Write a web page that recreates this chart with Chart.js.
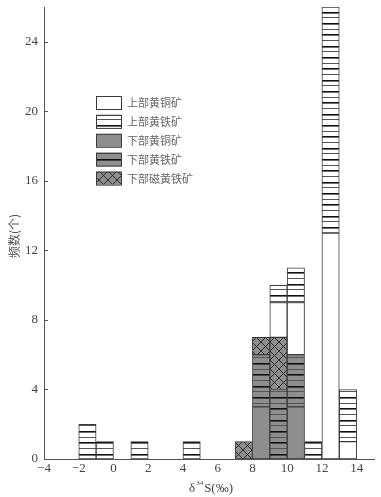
<!DOCTYPE html>
<html>
<head>
<meta charset="utf-8">
<script src="https://cdn.jsdelivr.net/npm/chart.js@4.4.0/dist/chart.umd.min.js"></script>
<style>
  html, body { margin: 0; padding: 0; background: #fff; }
  #wrap { width: 381px; height: 497px; }
</style>
</head>
<body>
<div id="wrap"><canvas id="c" width="381" height="497"></canvas></div>
<script>
// bin left edges (‰), 1‰ wide
const binEdges = [-2, -1, 0, 1, 2, 3, 4, 5, 6, 7, 8, 9, 10, 11, 12, 13];

// counts per bin, stacked bottom -> top
const lowerChalcopyrite = [0, 0, 0, 0, 0, 0, 0, 0, 0, 0, 3, 0, 3, 0, 0, 0];
const lowerPyrite       = [0, 0, 0, 0, 0, 0, 0, 0, 0, 0, 3, 4, 3, 0, 0, 0];
const lowerPyrrhotite   = [0, 0, 0, 0, 0, 0, 0, 0, 0, 1, 1, 3, 0, 0, 0, 0];
const upperChalcopyrite = [0, 0, 0, 0, 0, 0, 0, 0, 0, 0, 0, 2, 3, 0, 13, 1];
const upperPyrite       = [2, 1, 0, 1, 0, 0, 1, 0, 0, 0, 0, 1, 2, 1, 13, 3];

const yTicks = [0, 4, 8, 12, 16, 20, 24];
const xTicks = [-4, -2, 0, 2, 4, 6, 8, 10, 12, 14];

const legendLabels = ['上部黄铜矿', '上部黄铁矿', '下部黄铜矿', '下部黄铁矿', '下部磁黄铁矿'];

const GRAY = '#8e8e8e';
const EDGE = '#3a3a3a';

function makePattern (w, h, draw) {
  const c = document.createElement('canvas');
  c.width = w;
  c.height = h;
  draw(c.getContext('2d'));
  return c.getContext('2d').createPattern(c, 'repeat');
}

// horizontal lines, alternating heavier
function linesPattern (bg) {
  return makePattern(4, 34.7, ctx => {
    ctx.fillStyle = bg;
    ctx.fillRect(0, 0, 4, 34.7);
    const step = 34.7 / 6;
    for (let i = 0; i < 6; i++) {
      ctx.fillStyle = i % 2 ? '#555' : '#111';
      ctx.fillRect(0, Math.round(i * step), 4, i % 2 ? 1 : 1.6);
    }
  });
}

function crossPattern () {
  return makePattern(9, 9, ctx => {
    ctx.fillStyle = GRAY;
    ctx.fillRect(0, 0, 9, 9);
    ctx.strokeStyle = '#222';
    ctx.lineWidth = 0.9;
    ctx.beginPath();
    ctx.moveTo(0, 0); ctx.lineTo(9, 9);
    ctx.moveTo(9, 0); ctx.lineTo(0, 9);
    ctx.stroke();
  });
}

const fills = {
  upperChalcopyrite: '#ffffff',
  upperPyrite: linesPattern('#ffffff'),
  lowerChalcopyrite: GRAY,
  lowerPyrite: linesPattern(GRAY),
  lowerPyrrhotite: crossPattern()
};

function toPoints (counts) {
  return binEdges.map((edge, i) => ({ x: edge + 0.5, y: counts[i] ? counts[i] : null }));
}

function series (label, counts, fill) {
  return {
    label,
    data: toPoints(counts),
    backgroundColor: fill,
    borderColor: EDGE,
    borderWidth: 1,
    borderSkipped: false,
    barPercentage: 1,
    categoryPercentage: 1
  };
}

const serif = '"Liberation Serif", "Times New Roman", serif';
const tickFont = { family: serif, size: 13 };
const cjkFont = '"Noto Sans CJK SC", sans-serif';

// tick marks on the inner side of the y axis, plus axis titles and legend
const extras = {
  id: 'extras',
  afterDraw (chart) {
    const { ctx, scales: { x, y } } = chart;
    ctx.save();

    ctx.strokeStyle = '#555';
    ctx.lineWidth = 1;
    ctx.beginPath();
    yTicks.forEach(v => {
      const py = Math.round(y.getPixelForValue(v)) + 0.5;
      ctx.moveTo(x.left, py);
      ctx.lineTo(x.left + 4, py);
    });
    ctx.stroke();

    // x title  δ34S(‰)
    ctx.fillStyle = '#444';
    ctx.textBaseline = 'alphabetic';
    ctx.textAlign = 'left';
    let tx = 189, ty = 492;
    ctx.font = '13px ' + serif;
    ctx.fillText('δ', tx, ty);
    tx += ctx.measureText('δ').width + 1;
    ctx.font = '7px ' + serif;
    ctx.fillText('34', tx, ty - 7);
    tx += ctx.measureText('34').width + 1;
    ctx.font = '13px ' + serif;
    ctx.fillText('S(‰)', tx, ty);

    // y title
    ctx.save();
    ctx.translate(14, 236);
    ctx.rotate(-Math.PI / 2);
    ctx.textAlign = 'center';
    ctx.textBaseline = 'middle';
    ctx.fillStyle = '#555';
    ctx.font = '12px ' + cjkFont;
    ctx.fillText('频数(个)', 0, 0);
    ctx.restore();

    // legend
    const order = [fills.upperChalcopyrite, fills.upperPyrite, fills.lowerChalcopyrite, fills.lowerPyrite, fills.lowerPyrrhotite];
    ctx.font = '11px ' + cjkFont;
    ctx.textBaseline = 'middle';
    order.forEach((f, i) => {
      const bx = 96, by = 96 + i * 18.9;
      ctx.fillStyle = f;
      ctx.fillRect(bx, by, 25, 13);
      ctx.strokeStyle = EDGE;
      ctx.strokeRect(bx + 0.5, by + 0.5, 25, 13);
      ctx.fillStyle = '#666';
      ctx.fillText(legendLabels[i], 127, by + 7);
    });

    ctx.restore();
  }
};

new Chart(document.getElementById('c'), {
  type: 'bar',
  data: {
    datasets: [
      series('下部黄铜矿', lowerChalcopyrite, fills.lowerChalcopyrite),
      series('下部黄铁矿', lowerPyrite, fills.lowerPyrite),
      series('下部磁黄铁矿', lowerPyrrhotite, fills.lowerPyrrhotite),
      series('上部黄铜矿', upperChalcopyrite, fills.upperChalcopyrite),
      series('上部黄铁矿', upperPyrite, fills.upperPyrite)
    ]
  },
  options: {
    responsive: false,
    animation: false,
    layout: { padding: { left: 0, right: 7, top: 7, bottom: 0 } },
    plugins: { legend: { display: false }, tooltip: { enabled: false } },
    scales: {
      x: {
        type: 'linear',
        stacked: true,
        offset: false,
        min: -4,
        max: 15,
        afterFit: s => { s.height = 38; s.paddingLeft = 0; s.paddingRight = 0; },
        afterBuildTicks: s => { s.ticks = xTicks.map(v => ({ value: v })); },
        grid: { display: false, drawTicks: false },
        border: { display: true, color: '#555', width: 1 },
        ticks: {
          color: '#444',
          font: tickFont,
          padding: 2,
          callback: v => String(v).replace('-', '−')
        }
      },
      y: {
        stacked: true,
        min: 0,
        max: 26,
        afterFit: s => { s.width = 44; s.paddingTop = 0; s.paddingBottom = 0; },
        afterBuildTicks: s => { s.ticks = yTicks.map(v => ({ value: v })); },
        grid: { display: false, drawTicks: false },
        border: { display: true, color: '#555', width: 1 },
        ticks: { color: '#444', font: tickFont, padding: 6 }
      }
    }
  },
  plugins: [extras]
});
</script>
</body>
</html>
